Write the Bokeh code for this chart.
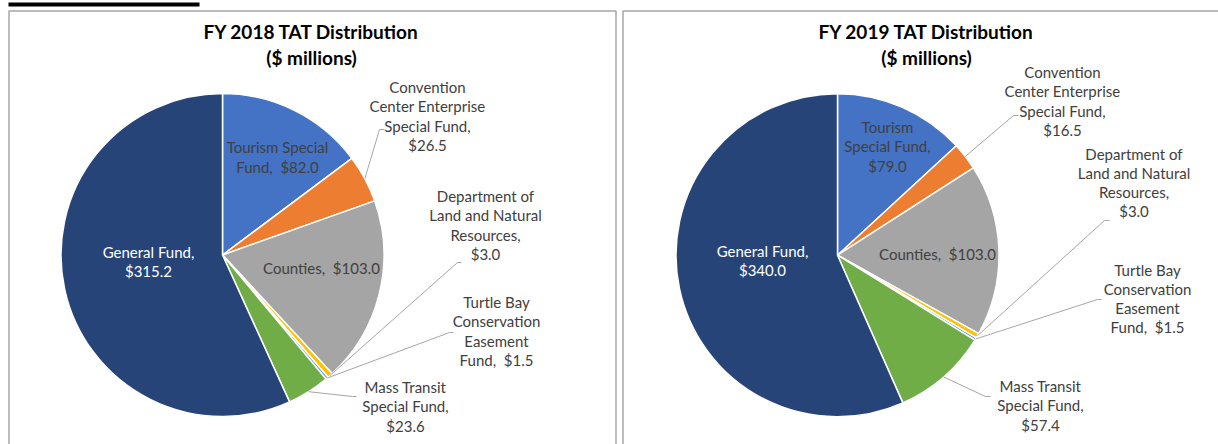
import numpy as np
from bokeh.plotting import figure
from bokeh.models import Range1d, ColumnDataSource
from bokeh.core.properties import value
from bokeh.embed import file_html
from bokeh.resources import INLINE

# ---------------- data ----------------
categories = ["Tourism Special Fund", "Convention Center Enterprise Special Fund", "Counties",
              "Department of Land and Natural Resources", "Turtle Bay Conservation Easement Fund",
              "Mass Transit Special Fund", "General Fund"]
fy2018 = [82.0, 26.5, 103.0, 3.0, 1.5, 23.6, 315.2]
fy2019 = [79.0, 16.5, 103.0, 3.0, 1.5, 57.4, 340.0]
titles = ["FY 2018 TAT Distribution", "FY 2019 TAT Distribution"]
subtitle = "($ millions)"
colors = ["#4472C4", "#ED7D31", "#A5A5A5", "#FFC000", "#5B9BD5", "#70AD47", "#264478"]

# label wrapping templates ({v} = value)
SP = "\u00a0 "
wrap2018 = ["Tourism Special\nFund," + SP + "${v}", "Convention\nCenter Enterprise\nSpecial Fund,\n${v}",
            "Counties," + SP + "${v}", "Department of\nLand and Natural\nResources,\n${v}",
            "Turtle Bay\nConservation\nEasement\nFund," + SP + "${v}", "Mass Transit\nSpecial Fund,\n${v}",
            "General Fund,\n${v}"]
wrap2019 = ["Tourism\nSpecial Fund,\n${v}", "Convention\nCenter Enterprise\nSpecial Fund,\n${v}",
            "Counties," + SP + "${v}", "Department of\nLand and Natural\nResources,\n${v}",
            "Turtle Bay\nConservation\nEasement\nFund," + SP + "${v}", "Mass Transit\nSpecial Fund,\n${v}",
            "General Fund,\n${v}"]

# ---------------- layout (page pixels) ----------------
W, H = 1218, 444
FONT = "Lato"
LABEL_SIZE = "15px"
TITLE_SIZE = "19px"
R = 161.5

charts = [
    dict(vals=fy2018, wrap=wrap2018, title=titles[0], cx=222, cy=254.5, tx=311,
         lab=[(277, 156.5), (427, 115.5), (321, 267), (485, 224.5), (496, 330.5), (405, 406), (148, 261)],
         lead={1: [(379, 129), (384, 129)], 3: [(457, 262), (461, 262)],
               4: [(449, 332), (453, 332)], 5: [(352, 396), (356, 396)]}),
    dict(vals=fy2019, wrap=wrap2019, title=titles[1], cx=837, cy=254.7, tx=926,
         lab=[(887, 146), (1062, 100.5), (937, 253), (1133.5, 182), (1147, 298), (1040, 405), (762, 260)],
         lead={1: [(1013, 115), (1018, 115)], 3: [(1104, 220), (1109, 220)],
               4: [(1097, 299), (1101, 299)], 5: [(985, 396), (990, 396)]}),
]

p = figure(width=W, height=H, x_range=Range1d(0, W), y_range=Range1d(-H, 0),
           x_axis_type=None, y_axis_type=None, output_backend="svg", toolbar_location=None,
           min_border=0)
p.grid.visible = False
p.outline_line_color = None
p.background_fill_color = "white"
p.border_fill_color = "white"

# frames and top bar
p.quad(left=[8], right=[199], top=[-2], bottom=[-6], fill_color="black", line_color=None)
p.line([8.5, 8.5, 615.5, 615.5], [-H, -10.5, -10.5, -H], line_color="#A6A6A6", line_width=1.5)
p.line([622.5, 622.5, W], [-H, -10.5, -10.5], line_color="#A6A6A6", line_width=1.5)

for c in charts:
    v = np.array(c["vals"], dtype=float)
    frac = v / v.sum()
    cum = np.concatenate([[0.0], np.cumsum(frac)])
    start = np.pi / 2 - 2 * np.pi * cum[:-1]
    end = np.pi / 2 - 2 * np.pi * cum[1:]
    mid = (start + end) / 2

    src = ColumnDataSource(dict(start=start, end=end, color=colors, cat=categories, val=v))
    p.wedge(x=c["cx"], y=-c["cy"], radius=R, start_angle="start", end_angle="end",
            direction="clock", fill_color="color", line_color="white", line_width=1.5, source=src)

    # leader lines
    xs, ys = [], []
    for i, pts in c["lead"].items():
        x0 = c["cx"] + R * np.cos(mid[i])
        y0 = -c["cy"] + R * np.sin(mid[i])
        xs.append([x0] + [q[0] for q in pts])
        ys.append([y0] + [-q[1] for q in pts])
    p.multi_line(xs, ys, line_color="#A6A6A6", line_width=1)

    # labels
    texts = [t.format(v="%.1f" % val) for t, val in zip(c["wrap"], c["vals"])]
    lx = [q[0] for q in c["lab"]]
    ly = [-q[1] for q in c["lab"]]
    tcol = ["#404040"] * 6 + ["white"]
    p.text(lx, ly, text=texts, text_font=value(FONT), text_font_size=LABEL_SIZE,
           text_align="center", text_baseline="middle", text_color=tcol, text_line_height=1.06)

    # title
    p.text([c["tx"]], [-44], text=[c["title"] + "\n" + subtitle], text_font=value(FONT),
           text_font_size=TITLE_SIZE, text_font_style="bold", text_align="center",
           text_baseline="middle", text_color="#000000", text_line_height=1.15)

open("out.html", "w").write(file_html(p, INLINE))
